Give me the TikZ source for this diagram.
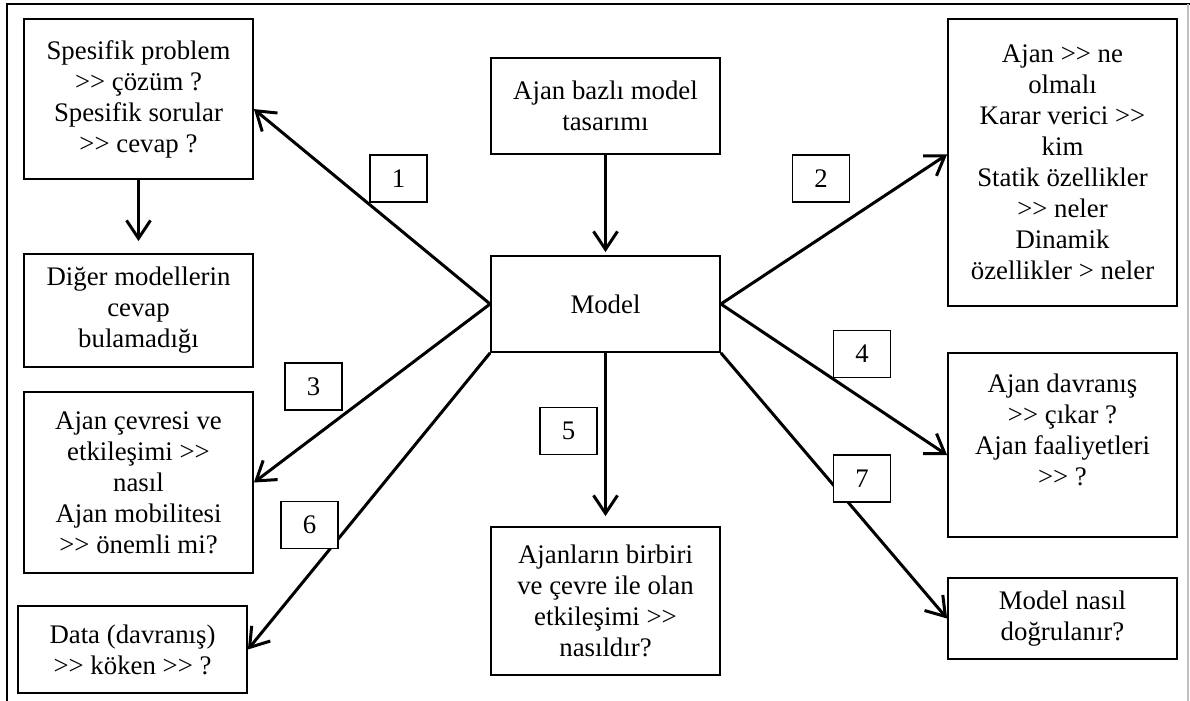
\documentclass[tikz,border=0pt]{standalone}
\usepackage{fontspec}
\setmainfont{Liberation Serif}
\usetikzlibrary{arrows.meta}

\begin{document}
\begin{tikzpicture}[x=0.5pt,y=-0.5pt,
  box/.style={draw,line width=0.9pt,fill=white,minimum width=114.5pt,align=center,inner sep=0pt,font=\fontsize{13.4}{15.5}\selectfont},
  num/.style={draw,line width=0.9pt,fill=white,minimum width=28.5pt,minimum height=23.5pt,inner sep=0pt,font=\fontsize{13.4}{15.5}\selectfont},
  arr/.style={line width=1.5pt,-{Straight Barb[length=9pt,width=12pt]}}]
\useasboundingbox (0,0) rectangle (1190,701);
\draw[line width=1pt](7,701)--(7,4)--(1190,4);
\draw[line width=0.8pt,color=lightgray](1188,4)--(1188,701);
% left column
\node[box,minimum height=80pt](prob) at (138.5,99) {Spesifik problem\\>{}> çözüm ?\\Spesifik sorular\\>{}> cevap ?};
\node[box,minimum height=56.5pt](other) at (138.5,310.5) {Diğer modellerin\\cevap\\bulamadığı};
\node[box,minimum height=90.5pt](env) at (138.5,482.5) {Ajan çevresi ve\\etkileşimi >{}>\\nasıl\\Ajan mobilitesi\\>{}> önemli mi?};
\node[box,minimum height=43.5pt](data) at (132.5,649.5) {Data (davranış)\\>{}> köken >{}> ?};
% middle column
\node[box,minimum height=48pt](design) at (605.5,106) {Ajan bazlı model\\tasarımı};
\node[box,minimum height=48pt](model) at (605.5,304) {Model};
\node[box,minimum height=74pt](inter) at (605.5,601) {Ajanların birbiri\\ve çevre ile olan\\etkileşimi >{}>\\nasıldır?};
% right column
\node[box,minimum height=143.5pt](agent) at (1062.5,162.5) {Ajan >{}> ne\\olmalı\\Karar verici >{}>\\kim\\Statik özellikler\\>{}> neler\\Dinamik\\özellikler > neler};
\node[box,minimum height=92pt](behav) at (1062.5,445) {Ajan davranış\\>{}> çıkar ?\\Ajan faaliyetleri\\>{}> ?\\\mbox{}};
\node[box,minimum height=40.5pt](valid) at (1062.5,618.5) {Model nasıl\\doğrulanır?};
% arrows
\draw[arr,shorten >=6pt](prob.south)--(other.north);
\draw[arr,shorten >=1.5pt](design.south)--(model.north);
\draw[arr](model.west)--(prob.-5);
\draw[arr](model.east)--(agent.176);
\draw[arr](model.west)--(env.east);
\draw[arr](model.east)--(behav.185);
\draw[arr,shorten >=5pt](model.south)--(inter.north);
\draw[arr](model.south west)--(data.east);
\draw[arr](model.south east)--(valid.west);
% numbers
\node[num](n1) at (398.5,178.5) {1};
\node[num](n2) at (821,178.5) {2};
\node[num](n3) at (313.5,386.5) {3};
\node[num](n4) at (862,354) {4};
\node[num](n5) at (568.5,431) {5};
\node[num](n6) at (309.5,525) {6};
\node[num](n7) at (862,478.5) {7};
\end{tikzpicture}
\end{document}
